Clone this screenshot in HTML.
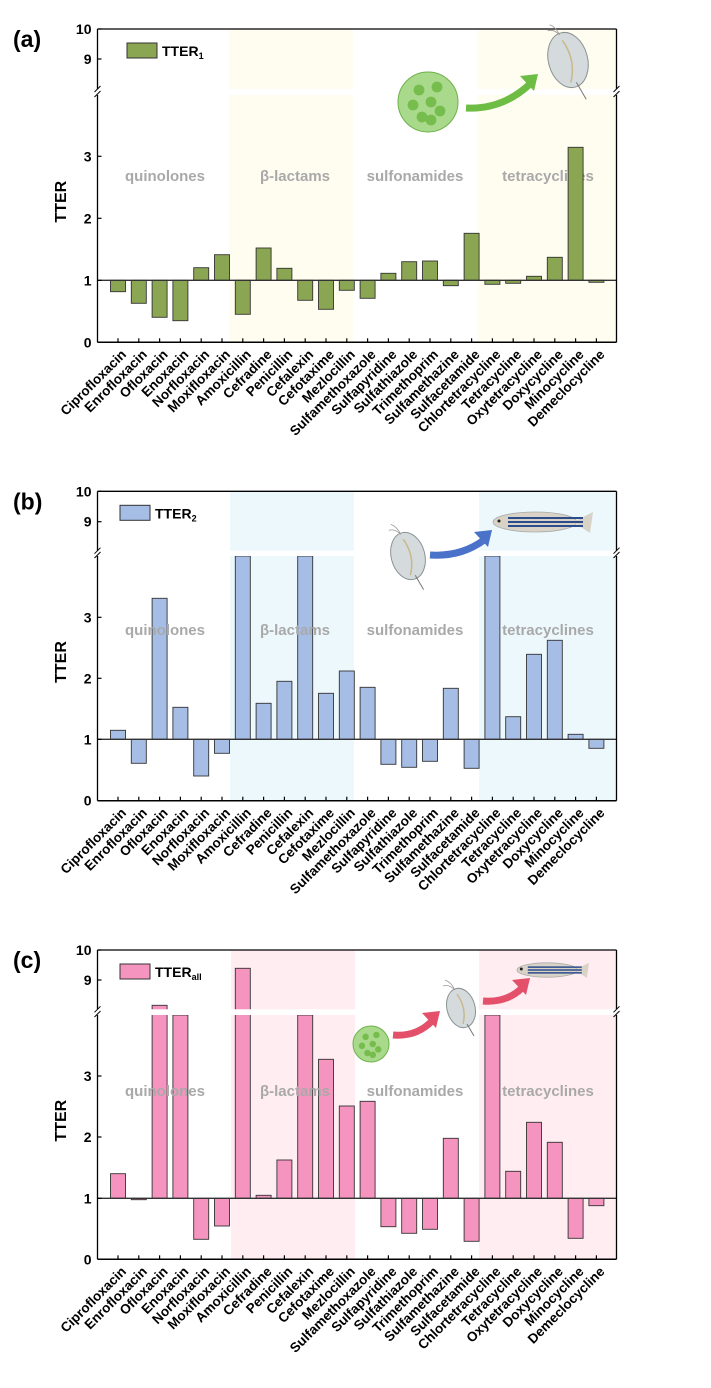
<!DOCTYPE html>
<html><head><meta charset="utf-8"><style>
html,body{margin:0;padding:0;background:#fff;}
svg{display:block;font-family:"Liberation Sans",Arial,sans-serif;}
</style></head><body>
<svg id="s" width="711" height="1388" viewBox="0 0 711 1388" xmlns="http://www.w3.org/2000/svg"></svg>
<script>
const NS="http://www.w3.org/2000/svg";
const s=document.getElementById('s');
function el(t,a,txt){const e=document.createElementNS(NS,t);for(const k in a)e.setAttribute(k,a[k]);if(txt!==undefined)e.textContent=txt;s.appendChild(e);return e;}
const names=["Ciprofloxacin","Enrofloxacin","Ofloxacin","Enoxacin","Norfloxacin","Moxifloxacin","Amoxicillin","Cefradine","Penicillin","Cefalexin","Cefotaxime","Mezlocillin","Sulfamethoxazole","Sulfapyridine","Sulfathiazole","Trimethoprim","Sulfamethazine","Sulfacetamide","Chlortetracycline","Tetracycline","Oxytetracycline","Doxycycline","Minocycline","Demeclocycline"];
const L=97.5,R=616.5;
const P=[
 {lab:"(a)",top:29,y9:59,g0:89,g1:95,y3:156.3,y2:218.3,y1:280.3,y0:342.3,bar:"#8ba653",sh:"#fffdf0",b1:229,b2:353,b3:478,leg:"TTER",sub:"1",ry:181,textTop:false,
  v:[291.7,303.3,317.3,320.7,267.7,254.7,314.3,248,268.3,300.3,309.3,290.3,298.3,273.3,261.7,261,285.7,233.3,284.3,283.3,276.3,257.3,147.3,282.3]},
 {lab:"(b)",top:491.3,y9:521.7,g0:550.7,g1:556,y3:617.3,y2:678.3,y1:739.3,y0:800.7,bar:"#a6bde6",sh:"#edf8fd",b1:230,b2:354,b3:479,leg:"TTER",sub:"2",ry:635,textTop:true,
  v:[730.3,763.3,598.3,707.3,776,753.3,556,703.3,681.3,556,693.3,671,687.3,764.3,767.3,761.3,688.3,768.3,556,716.7,654.3,640.3,734.3,748.3]},
 {lab:"(c)",top:950,y9:980,g0:1009.3,g1:1015,y3:1076,y2:1137,y1:1198.3,y0:1259.3,bar:"#f595bf",sh:"#ffedf1",b1:231,b2:355,b3:479,leg:"TTER",sub:"all",ry:1096,textTop:true,
  v:[1173.7,1199.7,1005.3,1015,1239.3,1226,968.3,1195.3,1160,1015,1059.3,1106,1101.3,1226.7,1233.3,1229.3,1138.3,1241.3,1015,1171.3,1122.3,1142.3,1238.3,1205.7]}
];
function regionText(p){
 [["quinolones",165],["β-lactams",295],["sulfonamides",415],["tetracyclines",548]].forEach(r=>{
  el('text',{x:r[1],y:p.ry,'text-anchor':'middle','font-size':15,'font-weight':'bold',fill:'#a9a9a9'},r[0]);
 });
}
P.forEach(p=>{
 el('rect',{x:p.b1,y:p.top,width:p.b2-p.b1,height:p.y0-p.top,fill:p.sh});
 el('rect',{x:p.b3,y:p.top,width:R-p.b3,height:p.y0-p.top,fill:p.sh});
 if(!p.textTop) regionText(p);
 for(let i=0;i<24;i++){
  const x=118+i*20.8, y=p.v[i];
  const t=Math.min(y,p.y1), h=Math.abs(y-p.y1);
  el('rect',{x:x-7.5,y:t,width:15,height:Math.max(h,1),fill:p.bar,stroke:'#333','stroke-width':0.9});
 }
 if(p.textTop) regionText(p);
 el('rect',{x:L+1,y:p.g0,width:R-L-2,height:p.g1-p.g0,fill:'#fff'});
 el('line',{x1:L,y1:p.y1,x2:R,y2:p.y1,stroke:'#333','stroke-width':1.3});
 el('line',{x1:L,y1:p.top,x2:R,y2:p.top,stroke:'#000','stroke-width':1.3});
 el('line',{x1:L,y1:p.y0,x2:R,y2:p.y0,stroke:'#000','stroke-width':1.5});
 [L,R].forEach(x=>{
  el('line',{x1:x,y1:p.top,x2:x,y2:p.g0,stroke:'#000','stroke-width':1.3});
  el('line',{x1:x,y1:p.g1,x2:x,y2:p.y0,stroke:'#000','stroke-width':1.3});
  el('line',{x1:x-3,y1:p.g0+3,x2:x+3,y2:p.g0-3,stroke:'#000','stroke-width':1});
  el('line',{x1:x-3,y1:p.g1+2,x2:x+3,y2:p.g1-4,stroke:'#000','stroke-width':1});
 });
 [[p.top,"10"],[p.y9,"9"],[p.y3,"3"],[p.y2,"2"],[p.y1,"1"],[p.y0,"0"]].forEach(t=>{
  el('line',{x1:L,y1:t[0],x2:L+4,y2:t[0],stroke:'#000','stroke-width':1.2});
  el('text',{x:L-6,y:t[0]+5,'text-anchor':'end','font-size':14,'font-weight':'bold'},t[1]);
 });
 for(let i=0;i<24;i++){
  const x=118+i*20.8;
  el('line',{x1:x,y1:p.y0,x2:x,y2:p.y0-4,stroke:'#000','stroke-width':1.2});
  el('text',{x:x+9,y:p.y0+13,'text-anchor':'end','font-size':13.5,'font-weight':'bold',transform:`rotate(-45 ${x+9} ${p.y0+13})`},names[i]);
 }
 el('text',{x:66,y:(p.top+p.y0)/2+16,'text-anchor':'middle','font-size':16,'font-weight':'bold',transform:`rotate(-90 66 ${(p.top+p.y0)/2+16})`},"TTER");
 el('text',{x:13,y:p.top+18,'font-size':23,'font-weight':'bold'},p.lab);
 const lx=p.lab=="(a)"?127:120, ly=p.top+14;
 el('rect',{x:lx,y:ly,width:30,height:15,fill:p.bar,stroke:'#333','stroke-width':1});
 const tx=el('text',{x:lx+35,y:ly+13,'font-size':14,'font-weight':'bold'},p.leg);
 const ts=document.createElementNS(NS,'tspan');ts.setAttribute('font-size',9);ts.setAttribute('dy',3);ts.textContent=p.sub;tx.appendChild(ts);
});
function algae(cx,cy,r){
 el('circle',{cx:cx,cy:cy,r:r,fill:'#a9d98a',stroke:'#6db24a','stroke-width':1});
 [[-0.3,-0.4],[0.3,-0.5],[-0.5,0.1],[0.1,0],[0.4,0.3],[-0.2,0.5],[0.1,0.6]].forEach(d=>el('circle',{cx:cx+d[0]*r,cy:cy+d[1]*r,r:r*0.18,fill:'#76bd4e'}));
}
function arrow(x1,y1,x2,y2,c){
 const mx=(x1+x2)/2, my=Math.max(y1,y2);
 el('path',{d:`M${x1} ${y1} Q${mx} ${my+2} ${x2-8} ${y2+10}`,stroke:c,'stroke-width':7,fill:'none'});
 el('polygon',{points:`${x2} ${y2} ${x2-18} ${y2+2} ${x2-4} ${y2+17}`,fill:c});
}
function daphnia(cx,cy,s){
 el('ellipse',{cx:cx,cy:cy,rx:14*s,ry:20*s,fill:'#d5dadc',stroke:'#8a9294','stroke-width':1,transform:`rotate(-15 ${cx} ${cy})`});
 el('path',{d:`M${cx-4*s} ${cy-14*s} Q${cx+6*s} ${cy} ${cx+2*s} ${cy+16*s}`,stroke:'#c8b98a','stroke-width':1.5,fill:'none'});
 el('line',{x1:cx+6*s,y1:cy+16*s,x2:cx+13*s,y2:cy+28*s,stroke:'#777','stroke-width':1});
 el('path',{d:`M${cx-6*s} ${cy-18*s} q-6 -6 -12 -4 M${cx-6*s} ${cy-18*s} q-4 -8 -10 -10`,stroke:'#999','stroke-width':0.8,fill:'none'});
}
function fish(x,y,len){
 el('ellipse',{cx:x+len*0.42,cy:y,rx:len*0.42,ry:len*0.1,fill:'#d8d3c6',stroke:'#aaa','stroke-width':0.8});
 el('polygon',{points:`${x+len*0.8} ${y} ${x+len} ${y-len*0.1} ${x+len*0.97} ${y+len*0.11}`,fill:'#d8d3c6'});
 for(let k=-1;k<=1;k++)el('line',{x1:x+len*0.15,y1:y+k*len*0.04,x2:x+len*0.9,y2:y+k*len*0.04,stroke:'#2c4c8c','stroke-width':Math.max(1.2,len*0.02)});
 el('circle',{cx:x+len*0.06,cy:y-1,r:1.5,fill:'#222'});
}
algae(428,102,30); arrow(466,108,538,74,'#6dbd45'); daphnia(568,60,1.4);
daphnia(408,556,1.2); arrow(430,555,492,530,'#4a72c8'); fish(493,522,100);
algae(371,1044,18); arrow(393,1035,440,1011,'#e4506a'); daphnia(461,1008,1.0); arrow(483,1001,530,978,'#e4506a'); fish(517,970,72);
</script>
</body></html>
